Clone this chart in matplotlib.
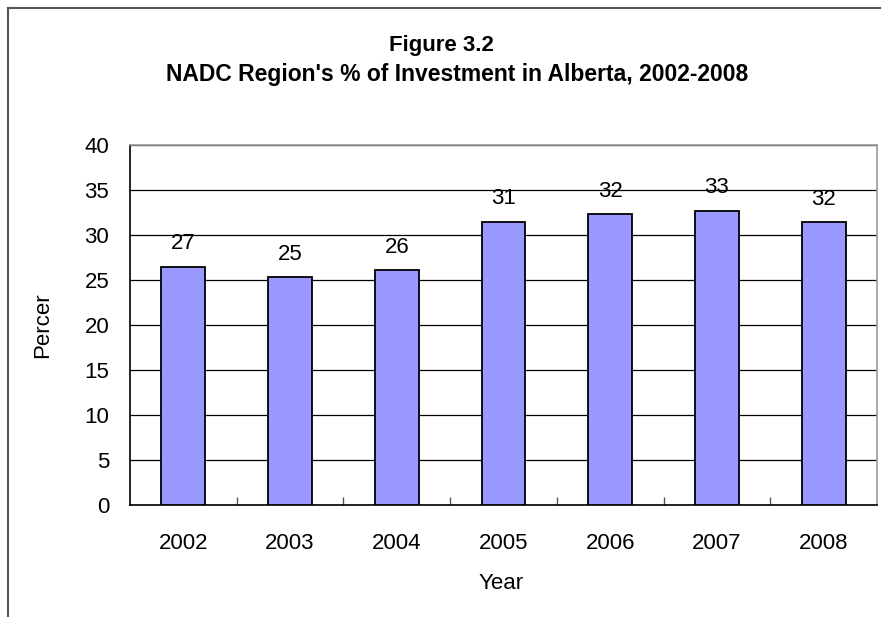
import matplotlib.pyplot as plt
from matplotlib.lines import Line2D
import numpy as np

plt.rcParams['font.family'] = ['Liberation Sans', 'DejaVu Sans']

# DATA
years = ['2002', '2003', '2004', '2005', '2006', '2007', '2008']
percent = [26.5, 25.3, 26.1, 31.5, 32.3, 32.7, 31.4]
bar_labels = ['27', '25', '26', '31', '32', '33', '32']

fig = plt.figure(figsize=(8.81, 6.17), dpi=100)
ax = fig.add_axes([130 / 881, 112 / 617, 747 / 881, 360 / 617])

x = np.arange(len(years))
bars = ax.bar(x, percent, width=0.41, color='#9999FF', edgecolor='black', linewidth=1.3, zorder=3)

for xi, v, lab in zip(x, percent, bar_labels):
    ax.annotate(lab, (xi, v), xytext=(0, 9), textcoords='offset points',
                ha='center', va='bottom', fontsize=16)

ax.set_xlim(-0.5, len(years) - 0.5)
ax.set_ylim(0, 40)
ax.set_yticks(range(0, 41, 5))
ax.tick_params(axis='y', length=0, pad=15, labelsize=16)
ax.yaxis.grid(True, color='black', linewidth=0.9, zorder=0)

ax.set_xticks(x)
ax.set_xticklabels(years)
ax.set_xticks(np.arange(0.5, len(years) - 0.5, 1), minor=True)
ax.tick_params(axis='x', which='major', length=0, pad=20, labelsize=16)
ax.tick_params(axis='x', which='minor', direction='in', length=6, color='#555555', width=1)

for side in ['top', 'right']:
    ax.spines[side].set_color('#999999')
    ax.spines[side].set_linewidth(1.2)
for side in ['left', 'bottom']:
    ax.spines[side].set_color('black')
    ax.spines[side].set_linewidth(1.2)

ax.set_ylabel('Percer', fontsize=16)
ax.yaxis.set_label_coords(-77 / 747, 0.5)
ax.set_xlabel('Year', fontsize=16)
ax.xaxis.set_label_coords(0.497, -68 / 360)

fig.text(441 / 881, 1 - 45 / 617, 'Figure 3.2', ha='center', va='center',
         fontsize=16, fontweight='bold')
fig.text(457 / 881, 1 - 75 / 617, "NADC Region's % of Investment in Alberta, 2002-2008",
         ha='center', va='center', fontsize=16.5, fontweight='bold')

# outer chart frame
fig.add_artist(Line2D([8 / 881, 8 / 881], [0, 1 - 8 / 617], transform=fig.transFigure,
                      color='#555555', linewidth=1.5))
fig.add_artist(Line2D([8 / 881, 1], [1 - 8 / 617, 1 - 8 / 617], transform=fig.transFigure,
                      color='#555555', linewidth=1.5))

fig.savefig('out.png', dpi=100)
